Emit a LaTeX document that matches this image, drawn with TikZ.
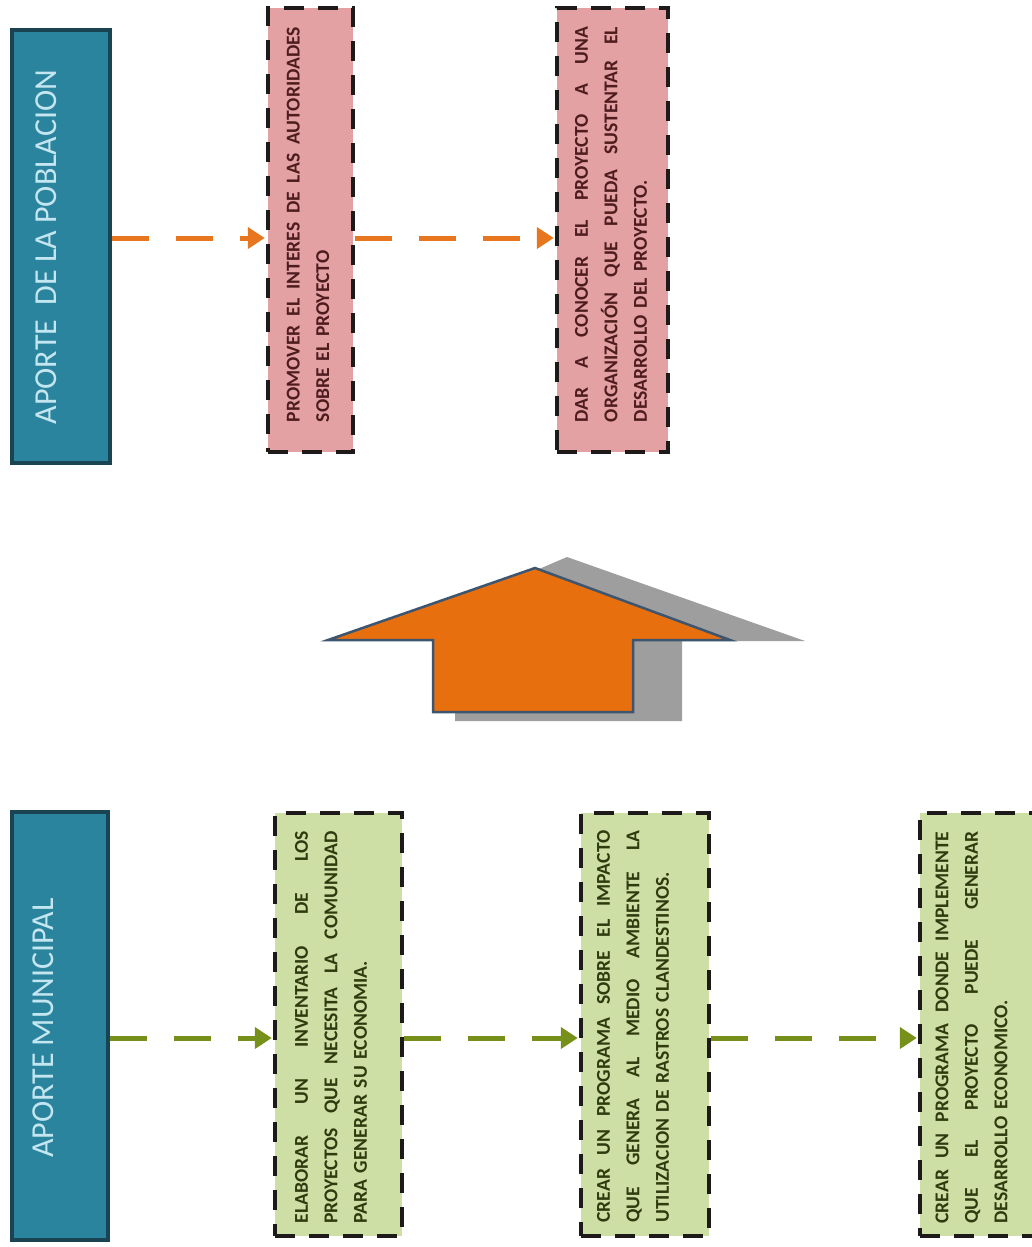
\documentclass[tikz,border=0pt]{standalone}
\usepackage{fontspec}
\setmainfont{Carlito}
\usetikzlibrary{arrows.meta}
\definecolor{tealfill}{HTML}{2B849E}
\definecolor{tealline}{HTML}{1B4453}
\definecolor{tealtext}{HTML}{C4E6F0}
\definecolor{pinkfill}{HTML}{E3A1A4}
\definecolor{pinktext}{HTML}{4E1C1E}
\definecolor{greenfill}{HTML}{CEDFA5}
\definecolor{greentext}{HTML}{2F3B0E}
\definecolor{boxline}{HTML}{1E1A1A}
\definecolor{oline}{HTML}{E8761E}
\definecolor{gline}{HTML}{76901A}
\definecolor{bigorange}{HTML}{E86F0E}
\definecolor{bigedge}{HTML}{3E5570}
\definecolor{shadowgray}{HTML}{9E9E9E}
\newcommand\jline[2]{\makebox[#1][s]{\spaceskip=0pt\xspaceskip=0pt\relax #2}}
\tikzset{
  headbox/.style={rectangle, fill=tealfill, draw=tealline, line width=3.5pt, inner sep=0pt},
  headtext/.style={rotate=90, text=tealtext, inner sep=0pt, font=\fontsize{32}{38}\selectfont},
  dashbox/.style={rectangle, draw=boxline, line width=4.5pt, dash pattern=on 20pt off 14pt, inner sep=0pt},
  pinkbox/.style={dashbox, fill=pinkfill},
  greenbox/.style={dashbox, fill=greenfill},
  bodytext/.style={rotate=90, inner sep=0pt, align=left, text width=395pt, font=\bfseries\fontsize{19.6}{29.5}\selectfont},
  pinktxt/.style={bodytext, text=pinktext},
  greentxt/.style={bodytext, text=greentext},
  flowarrow/.style={line width=5pt, dash pattern=on 37pt off 27pt, -{Triangle[length=17pt, width=21pt]}, shorten >=1pt},
  oarrow/.style={flowarrow, draw=oline},
  garrow/.style={flowarrow, draw=gline}
}
\begin{document}
\begin{tikzpicture}[x=1pt, y=-1pt]
\useasboundingbox (0,0) rectangle (1032,1247);
% head boxes
\node[headbox, minimum width=98pt, minimum height=433pt] (A) at (61,246.5) {};
\node[headtext] (At) at (46,247) {APORTE~ DE LA POBLACION};
\node[headbox, minimum width=96pt, minimum height=428pt] (B) at (60,1026) {};
\node[headtext] (Bt) at (43,1028) {APORTE MUNICIPAL};
% pink boxes
\node[pinkbox, minimum width=85pt, minimum height=444pt] (p1) at (310.5,230) {};
\node[pinktxt] (p1t) at (308,224.5) {\jline{395pt}{PROMOVER EL INTERES DE LAS AUTORIDADES}\\SOBRE EL PROYECTO};
\node[pinkbox, minimum width=111pt, minimum height=444pt] (p2) at (612.5,230) {};
\node[pinktxt] (p2t) at (611,224.5) {\jline{395pt}{DAR A CONOCER EL PROYECTO A UNA}\\\jline{395pt}{ORGANIZACIÓN QUE PUEDA SUSTENTAR EL}\\DESARROLLO DEL PROYECTO.};
% green boxes
\node[greenbox, minimum width=127pt, minimum height=423pt] (g1) at (338.5,1024.5) {};
\node[greentxt] (g1t) at (331,1026) {\jline{392pt}{ELABORAR UN INVENTARIO DE LOS}\\\jline{392pt}{PROYECTOS QUE NECESITA LA COMUNIDAD}\\PARA GENERAR SU ECONOMIA.};
\node[greenbox, minimum width=128pt, minimum height=423pt] (g2) at (645,1024.5) {};
\node[greentxt] (g2t) at (633,1025) {\jline{392pt}{CREAR UN PROGRAMA SOBRE EL IMPACTO}\\\jline{392pt}{QUE GENERA AL MEDIO AMBIENTE LA}\\UTILIZACION DE RASTROS CLANDESTINOS.};
\node[greenbox, minimum width=125pt, minimum height=423pt] (g3) at (982.5,1024.5) {};
\node[greentxt] (g3t) at (971.5,1026) {\jline{392pt}{CREAR UN PROGRAMA DONDE IMPLEMENTE}\\\jline{392pt}{QUE EL PROYECTO PUEDE GENERAR}\\DESARROLLO ECONOMICO.};
% connectors
\coordinate (ya) at (0,238);
\coordinate (yb) at (0,1038);
\draw[oarrow] (A.east |- ya) -- (p1.west |- ya);
\draw[oarrow] (p1.east |- ya) -- (p2.west |- ya);
\draw[garrow] (B.east |- yb) -- (g1.west |- yb);
\draw[garrow] (g1.east |- yb) -- (g2.west |- yb);
\draw[garrow] (g2.east |- yb) -- (g3.west |- yb);
% big block arrow with shadow
\fill[shadowgray] (567,557) -- (805,641) -- (682,641) -- (682,721) -- (455,721) -- (455,635) -- (420,620) -- cycle;
\filldraw[fill=bigorange, draw=bigedge, line width=2.5pt, line join=miter] (535,568) -- (730,640) -- (633,640) -- (633,712) -- (433,712) -- (433,640) -- (328,640) -- cycle;
\end{tikzpicture}
\end{document}
